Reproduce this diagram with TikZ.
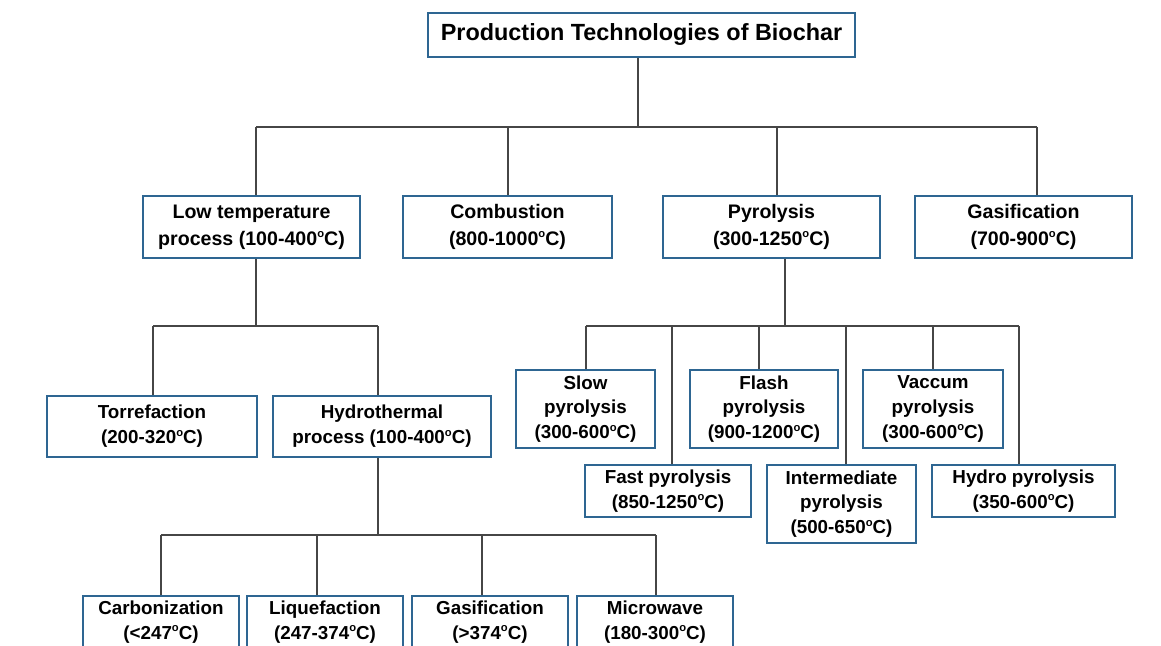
\documentclass[tikz,border=0pt]{standalone}
\usepackage{fontspec}
\setmainfont{Liberation Sans}
\usetikzlibrary{positioning}
\definecolor{boxblue}{RGB}{46,102,146}
\definecolor{linegray}{RGB}{70,70,70}
\newcommand{\degc}{\raisebox{0.75ex}{\fontsize{5.6}{6}\selectfont o}C}
\tikzset{
  tbox/.style={draw=boxblue, line width=1.3pt, fill=white, align=center,
               inner sep=0pt, font=\fontsize{9.4}{12.4}\selectfont\bfseries},
  topbox/.style={tbox, font=\fontsize{9.8}{13.4}\selectfont\bfseries},
  conn/.style={draw=linegray, line width=0.6pt}
}
\begin{document}
\begin{tikzpicture}[x=0.5pt, y=-0.5pt]
 \clip (0,0) rectangle (1161,646);
 \fill[white] (0,0) rectangle (1161,646);
 % root
 \node[tbox, font=\fontsize{11.7}{13}\selectfont\bfseries,
       minimum width=213.5pt, minimum height=22pt]
      (title) at (641.5,35) {Production Technologies of Biochar};
 % first level
 \node[topbox, minimum width=108.5pt, minimum height=31pt]
      (lowt) at (251.5,227) {Low temperature\\process (100-400\degc)};
 \node[topbox, minimum width=104.5pt, minimum height=31pt]
      (comb) at (507.5,227) {Combustion\\(800-1000\degc)};
 \node[topbox, minimum width=108.5pt, minimum height=31pt]
      (pyro) at (771.5,227) {Pyrolysis\\(300-1250\degc)};
 \node[topbox, minimum width=108.5pt, minimum height=31pt]
      (gasi) at (1023.5,227) {Gasification\\(700-900\degc)};
 % low temperature branch
 \node[tbox, minimum width=105pt, minimum height=30.5pt]
      (torr) at (152,426.5) {Torrefaction\\(200-320\degc)};
 \node[tbox, minimum width=109pt, minimum height=30.5pt]
      (hydt) at (382,426.5) {Hydrothermal\\process (100-400\degc)};
 % hydrothermal branch
 \node[tbox, minimum width=78pt, minimum height=26pt]
      (carb) at (161,622) {Carbonization\\(<247\degc)};
 \node[tbox, minimum width=78pt, minimum height=26pt]
      (liqu) at (325,622) {Liquefaction\\(247-374\degc)};
 \node[tbox, minimum width=78pt, minimum height=26pt]
      (hgas) at (490,622) {Gasification\\(>374\degc)};
 \node[tbox, minimum width=78pt, minimum height=26pt]
      (micr) at (655,622) {Microwave\\(180-300\degc)};
 % pyrolysis branch
 \node[tbox, minimum width=69.5pt, minimum height=39pt]
      (slow) at (585.5,409) {Slow\\pyrolysis\\(300-600\degc)};
 \node[tbox, minimum width=74pt, minimum height=39pt]
      (flas) at (764,409) {Flash\\pyrolysis\\(900-1200\degc)};
 \node[tbox, minimum width=70pt, minimum height=39pt]
      (vacc) at (933,409) {Vaccum\\pyrolysis\\(300-600\degc)};
 \node[tbox, minimum width=83pt, minimum height=26pt]
      (fast) at (668,491) {Fast pyrolysis\\(850-1250\degc)};
 \node[tbox, minimum width=74.5pt, minimum height=39pt]
      (inte) at (841.5,504) {Intermediate\\pyrolysis\\(500-650\degc)};
 \node[tbox, minimum width=91.5pt, minimum height=26pt]
      (hypy) at (1023.5,491) {Hydro pyrolysis\\(350-600\degc)};

 % connectors
 \coordinate (r0) at (638,127);
 \coordinate (l0) at (256,326);
 \coordinate (h0) at (378,535);
 \coordinate (p0) at (785,326);
 \draw[conn] (title.south -| r0) -- (r0);
 \draw[conn] (lowt.south -| l0) -- (l0);
 \draw[conn] (hydt.south -| h0) -- (h0);
 \draw[conn] (pyro.south -| p0) -- (p0);
 \draw[conn] (256,127) -- (1037,127);
 \draw[conn] (153,326) -- (378,326);
 \draw[conn] (161,535) -- (656,535);
 \draw[conn] (586,326) -- (1019,326);
 \foreach \n/\x/\y in {lowt/256/127, comb/508/127, pyro/777/127, gasi/1037/127,
                       torr/153/326, hydt/378/326,
                       carb/161/535, liqu/317/535, hgas/482/535, micr/656/535,
                       slow/586/326, flas/759/326, vacc/933/326,
                       fast/672/326, inte/846/326, hypy/1019/326}{
   \coordinate (\n-j) at (\x,\y);
   \draw[conn] (\n-j) -- (\n-j |- \n.north);
 }
\end{tikzpicture}
\end{document}
